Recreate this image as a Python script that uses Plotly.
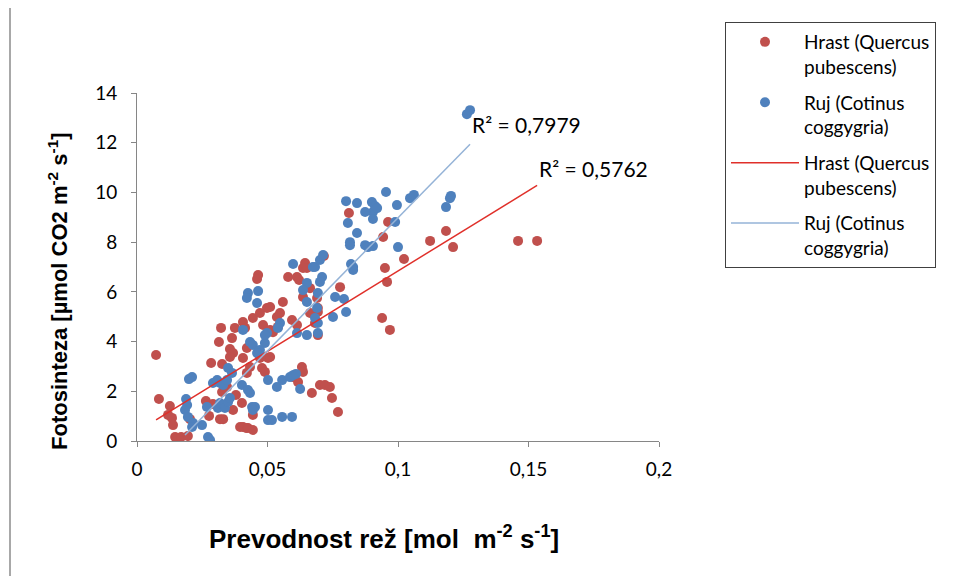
import numpy as np
import plotly.graph_objects as go

# ---- data ----
hrast_x = [0.0073, 0.0084, 0.0126, 0.0119, 0.0134, 0.0138, 0.0146, 0.0157, 0.0169, 0.0195,
           0.0203, 0.0264, 0.0276, 0.0318, 0.0330, 0.0284, 0.0314, 0.0322, 0.0375, 0.0356,
           0.0368, 0.0356, 0.0326, 0.0345, 0.0326, 0.0368, 0.0395, 0.0418, 0.0406, 0.0414,
           0.0444, 0.0471, 0.0498, 0.0510, 0.0464, 0.0460, 0.0559, 0.0548, 0.0483, 0.0510,
           0.0521, 0.0579, 0.0613, 0.0621, 0.0644, 0.0636, 0.0651, 0.0663, 0.0636, 0.0690,
           0.0693, 0.0693, 0.0663, 0.0594, 0.0613, 0.0682, 0.0693, 0.0716, 0.0364, 0.0421,
           0.0406, 0.0433, 0.0421, 0.0471, 0.0479, 0.0490, 0.0502, 0.0632, 0.0636, 0.0598,
           0.0617, 0.0670, 0.0701, 0.0720, 0.0739, 0.0747, 0.0770, 0.0402, 0.0444, 0.0406,
           0.0425, 0.0444, 0.0812, 0.0962, 0.0943, 0.1023, 0.0950, 0.0958, 0.1123, 0.1184,
           0.1211, 0.1460, 0.1533, 0.0939, 0.0969, 0.0778, 0.0536, 0.0540, 0.0510, 0.0379,
           0.0291]
hrast_y = [3.46, 1.69, 1.41, 1.05, 0.93, 0.64, 0.16, 0.12, 0.16, 0.20,
           0.88, 1.61, 1.01, 0.88, 0.88, 3.14, 3.98, 4.55, 4.55, 3.70,
           3.54, 3.38, 3.10, 2.17, 1.97, 1.25, 0.56, 0.52, 4.79, 4.55,
           4.95, 5.15, 5.35, 5.39, 6.68, 6.52, 5.59, 5.15, 4.67, 4.47,
           4.38, 6.60, 6.60, 6.48, 7.16, 6.96, 6.96, 6.15, 5.79, 5.75,
           5.35, 5.19, 5.15, 4.87, 4.67, 4.75, 4.26, 7.44, 4.14, 3.74,
           3.34, 2.98, 2.74, 3.34, 2.94, 2.78, 3.34, 2.98, 2.78, 2.57,
           2.37, 1.93, 2.25, 2.25, 2.17, 1.73, 1.17, 1.53, 1.05, 0.56,
           0.52, 0.44, 9.17, 8.81, 8.21, 7.32, 6.96, 6.40, 8.05, 8.45,
           7.80, 8.05, 8.05, 4.95, 4.47, 6.19, 4.99, 4.59, 3.38, 1.85,
           1.49]

ruj_x = [0.0199, 0.0211, 0.0188, 0.0192, 0.0184, 0.0195, 0.0215, 0.0211, 0.0249, 0.0272,
         0.0280, 0.0291, 0.0307, 0.0318, 0.0330, 0.0345, 0.0349, 0.0364, 0.0310, 0.0318,
         0.0337, 0.0349, 0.0356, 0.0268, 0.0433, 0.0444, 0.0490, 0.0498, 0.0471, 0.0460,
         0.0402, 0.0425, 0.0433, 0.0502, 0.0536, 0.0556, 0.0586, 0.0598, 0.0609, 0.0625,
         0.0651, 0.0693, 0.0441, 0.0452, 0.0444, 0.0502, 0.0502, 0.0517, 0.0556, 0.0594,
         0.0801, 0.0843, 0.0900, 0.0912, 0.0904, 0.0920, 0.0954, 0.0996, 0.1046, 0.1061,
         0.0874, 0.0904, 0.0808, 0.0843, 0.0816, 0.0816, 0.0874, 0.0885, 0.0904, 0.1000,
         0.0989, 0.0820, 0.0828, 0.0828, 0.0709, 0.0682, 0.0701, 0.0713, 0.0598, 0.0674,
         0.0425, 0.0421, 0.0464, 0.0460, 0.0651, 0.0636, 0.0651, 0.0693, 0.0701, 0.0690,
         0.0682, 0.0693, 0.0548, 0.0540, 0.0490, 0.0406, 0.1203, 0.1199, 0.1184, 0.1264,
         0.1276, 0.0793, 0.0801, 0.0759, 0.0751, 0.0613]
ruj_y = [2.49, 2.57, 1.69, 1.45, 1.25, 0.97, 0.72, 0.56, 0.64, 0.16,
         0.04, 2.33, 2.45, 2.33, 2.25, 2.45, 2.94, 2.74, 1.33, 1.53,
         1.33, 1.57, 1.73, 1.37, 3.98, 3.86, 3.94, 4.34, 3.66, 3.54,
         2.25, 2.05, 1.93, 2.45, 2.17, 2.45, 2.57, 2.65, 2.70, 2.09,
         4.26, 4.34, 1.37, 1.37, 1.25, 1.25, 0.84, 0.84, 0.97, 0.97,
         9.65, 9.57, 9.61, 9.45, 9.21, 9.37, 10.02, 9.49, 9.77, 9.90,
         9.21, 8.93, 8.77, 8.37, 8.00, 7.88, 7.88, 7.80, 7.84, 7.80,
         8.81, 7.12, 7.00, 6.88, 6.60, 7.00, 7.28, 7.48, 7.12, 7.00,
         5.95, 5.75, 6.03, 5.55, 6.36, 6.07, 5.59, 5.95, 6.40, 5.35,
         4.95, 4.75, 4.75, 4.55, 4.26, 4.47, 9.86, 9.77, 9.41, 13.15,
         13.31, 5.71, 5.19, 5.79, 4.99, 4.34]

# linear trendline coefficients (slope, intercept)
hrast_fit = [64.6, 0.38]
ruj_fit = [107.1, -1.73]
hrast_r2 = "R² = 0,5762"
ruj_r2 = "R² = 0,7979"

x_ticks = [0, 0.05, 0.1, 0.15, 0.2]
x_tick_labels = ["0", "0,05", "0,1", "0,15", "0,2"]
y_ticks = [0, 2, 4, 6, 8, 10, 12, 14]

RED = "#C0504D"
BLUE = "#4F81BD"
RED_LINE = "#E0302A"
BLUE_LINE = "#95B3D7"
NUM_FONT = "Lato, 'Open Sans', sans-serif"
TITLE_FONT = "'Liberation Sans', Arial, sans-serif"

# plot area geometry (page offset of the figure compensated)
L, T, PW, PH = 129, 85, 522, 348

def px(v):   # page pixel x -> paper x
    return (v - 139) / PW

def py(v):   # page pixel y -> paper y
    return (441 - v) / PH

fig = go.Figure()
fig.add_trace(go.Scatter(x=hrast_x, y=hrast_y, mode="markers",
                         name="Hrast (Quercus<br>pubescens)",
                         marker=dict(color=RED, size=10), legendgroup="a"))
fig.add_trace(go.Scatter(x=ruj_x, y=ruj_y, mode="markers",
                         name="Ruj (Cotinus<br>coggygria)",
                         marker=dict(color=BLUE, size=10), legendgroup="b"))

hx = np.array([min(hrast_x), max(hrast_x)])
rx = np.array([min(ruj_x), max(ruj_x)])
fig.add_trace(go.Scatter(x=hx, y=hrast_fit[0] * hx + hrast_fit[1], mode="lines",
                         name="Hrast (Quercus<br>pubescens)",
                         line=dict(color=RED_LINE, width=1.5), legendgroup="c"))
fig.add_trace(go.Scatter(x=rx, y=ruj_fit[0] * rx + ruj_fit[1], mode="lines",
                         name="Ruj (Cotinus<br>coggygria)",
                         line=dict(color=BLUE_LINE, width=1.5), legendgroup="d"))

fig.add_annotation(x=max(ruj_x), y=12.75, xref="x", yref="y", text=ruj_r2,
                   showarrow=False, xanchor="left", yanchor="middle",
                   font=dict(family=NUM_FONT, size=21, color="#000"))
fig.add_annotation(x=max(hrast_x), y=10.98, xref="x", yref="y", text=hrast_r2,
                   showarrow=False, xanchor="left", yanchor="middle",
                   font=dict(family=NUM_FONT, size=21, color="#000"))

# axis titles
fig.add_annotation(x=px(386), y=py(537), xref="paper", yref="paper",
                   text="<b>Prevodnost rež [mol&nbsp; m<sup>-2</sup> s<sup>-1</sup>]</b>",
                   showarrow=False, xanchor="center", yanchor="middle",
                   font=dict(family=TITLE_FONT, size=26, color="#000"))
fig.add_annotation(x=px(60), y=py(291), xref="paper", yref="paper",
                   text="<b>Fotosinteza [µmol CO2 m<sup>-2</sup> s<sup>-1</sup>]</b>",
                   showarrow=False, xanchor="center", yanchor="middle", textangle=-90,
                   font=dict(family=TITLE_FONT, size=22, color="#000"))

# outer chart border (left edge visible)
fig.add_shape(type="rect", xref="paper", yref="paper",
              x0=px(12), x1=px(1000), y0=py(620), y1=py(-20),
              line=dict(color="#8C8C8C", width=1.5), fillcolor="rgba(0,0,0,0)", layer="below")

fig.update_layout(
    width=953, height=576,
    margin=dict(l=L, r=953 - L - PW, t=T, b=576 - T - PH, autoexpand=False),
    paper_bgcolor="white", plot_bgcolor="white",
    showlegend=True,
    legend=dict(x=px(727), y=py(22), xanchor="left", yanchor="top",
                bordercolor="#404040", borderwidth=1, bgcolor="white",
                font=dict(family=NUM_FONT, size=19, color="#000"),
                tracegroupgap=8, valign="top", itemwidth=68,
                traceorder="grouped"),
    xaxis=dict(range=[0, 0.2], tickvals=x_ticks, ticktext=x_tick_labels,
               showgrid=False, zeroline=False, showline=True, linecolor="#868686",
               linewidth=1, ticks="outside", tickcolor="#868686", ticklen=5,
               ticklabelstandoff=6,
               tickfont=dict(family=NUM_FONT, size=19, color="#000")),
    yaxis=dict(range=[0, 14], tickvals=y_ticks,
               showgrid=False, zeroline=False, showline=True, linecolor="#868686",
               linewidth=1, ticks="outside", tickcolor="#868686", ticklen=5,
               ticklabelstandoff=10,
               tickfont=dict(family=NUM_FONT, size=19, color="#000")),
)

fig.write_html("out.html")
